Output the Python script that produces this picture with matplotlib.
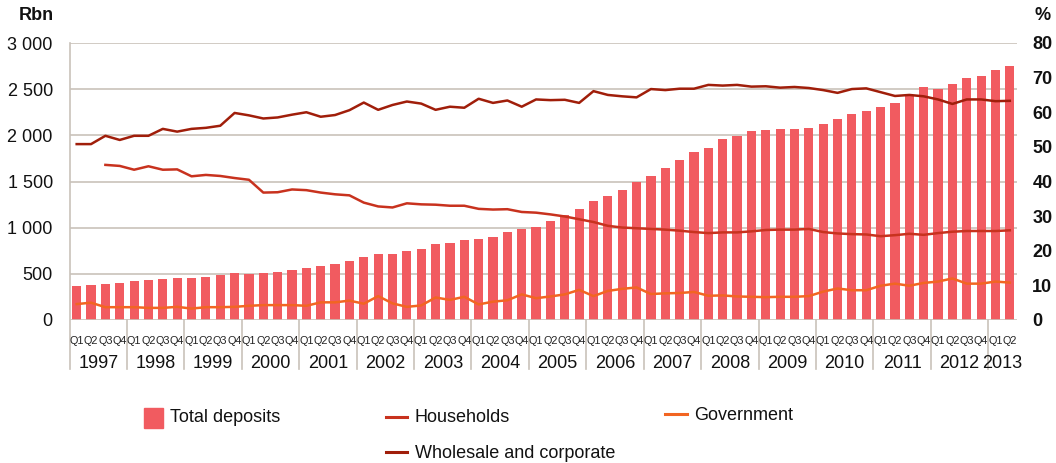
import matplotlib
matplotlib.use("Agg")
import matplotlib.pyplot as plt
from matplotlib.patches import Rectangle
from matplotlib.lines import Line2D
from matplotlib.transforms import blended_transform_factory
import numpy as np

plt.rcParams['font.family'] = ['Liberation Sans', 'DejaVu Sans']

years = ['1997', '1998', '1999', '2000', '2001', '2002', '2003', '2004',
         '2005', '2006', '2007', '2008', '2009', '2010', '2011', '2012', '2013']
quarters_per_year = [4] * 16 + [2]
quarter_labels = ['Q1', 'Q2', 'Q3', 'Q4']

total_deposits = [
    372, 383, 394, 405,
    426, 437, 448, 459,
    459, 470, 491, 513,
    502, 513, 524, 546,
    567, 589, 611, 643,
    683, 715, 715, 751,
    773, 827, 835, 871,
    881, 903, 957, 986,
    1008, 1077, 1138, 1207,
    1290, 1344, 1409, 1496,
    1564, 1647, 1734, 1821,
    1868, 1965, 1998, 2048,
    2059, 2070, 2070, 2081,
    2124, 2178, 2233, 2265,
    2308, 2352, 2428, 2525,
    2504, 2558, 2623, 2645,
    2710, 2753,
]

households = [
    np.nan, np.nan, 44.8, 44.5,
    43.4, 44.4, 43.4, 43.5,
    41.5, 41.9, 41.6, 41.0,
    40.5, 36.8, 36.9, 37.7,
    37.5, 36.8, 36.3, 36.0,
    33.9, 32.8, 32.5, 33.7,
    33.4, 33.3, 33.0, 33.0,
    32.1, 31.9, 32.0, 31.2,
    31.0, 30.5, 29.9, 29.1,
    28.3, 27.2, 26.7, 26.5,
    26.3, 26.1, 25.8, 25.4,
    25.1, 25.3, 25.3, 25.6,
    26.0, 26.1, 26.1, 26.3,
    25.4, 25.0, 24.8, 24.7,
    24.2, 24.5, 24.9, 24.6,
    25.1, 25.5, 25.7, 25.7,
    25.7, 25.9,
]

wholesale = [
    50.8, 50.8, 53.2, 52.0,
    53.2, 53.2, 55.2, 54.4,
    55.2, 55.5, 56.1, 59.8,
    59.1, 58.2, 58.5, 59.3,
    60.0, 58.7, 59.2, 60.6,
    62.8, 60.7, 62.1, 63.1,
    62.5, 60.7, 61.6, 61.3,
    63.9, 62.7, 63.4, 61.6,
    63.7, 63.5, 63.6, 62.7,
    66.1, 65.0, 64.6, 64.3,
    66.7, 66.4, 66.8, 66.8,
    67.9, 67.7, 67.9, 67.4,
    67.5, 67.1, 67.3, 67.0,
    66.4, 65.6, 66.7, 66.9,
    65.8, 64.7, 65.0, 64.6,
    63.7, 62.4, 63.7, 63.7,
    63.2, 63.3,
]

government = [
    4.6, 5.0, 3.7, 3.7,
    3.7, 3.5, 3.5, 3.8,
    3.3, 3.7, 3.7, 3.8,
    4.1, 4.3, 4.3, 4.3,
    4.1, 5.1, 5.1, 5.6,
    4.7, 6.9, 4.8, 3.8,
    4.2, 6.5, 5.8, 6.7,
    4.5, 5.3, 5.7, 7.4,
    6.3, 6.8, 7.4, 8.7,
    6.9, 8.4, 9.0, 9.4,
    7.5, 7.7, 7.8, 8.1,
    7.0, 7.1, 6.8, 6.7,
    6.6, 6.7, 6.7, 6.9,
    8.2, 9.1, 8.6, 8.6,
    9.9, 10.5, 9.9, 10.7,
    11.1, 12.0, 10.5, 10.5,
    11.1, 10.8,
]

left_ticks = [0, 500, 1000, 1500, 2000, 2500, 3000]
left_tick_labels = ['0', '500', '1 000', '1 500', '2 000', '2 500', '3 000']
right_ticks = [0, 10, 20, 30, 40, 50, 60, 70, 80]

C_BAR = '#F15B60'
C_HH = '#C8321E'
C_WH = '#A01E0A'
C_GOV = '#F26522'
C_GRID = '#C9C2BA'
C_TXT = '#111111'

W, H = 1056, 463
fig = plt.figure(figsize=(W / 100, H / 100), dpi=100)
x0, x1 = 69.5, 1017
y0, y1 = 320, 43
ax = fig.add_axes([x0 / W, 1 - y0 / H, (x1 - x0) / W, (y0 - y1) / H])
ax2 = ax.twinx()

n = len(total_deposits)
x = np.arange(n)
ax.bar(x, total_deposits, width=0.64, color=C_BAR, zorder=2)
ax.set_xlim(-0.5, n - 0.5)
ax.set_ylim(0, 3000)
ax.set_yticks(left_ticks)
ax.set_yticklabels(left_tick_labels)
for yv in left_ticks[1:]:
    ax.axhline(yv, color=C_GRID, lw=1.2, zorder=1)
ax.axhline(0, color=C_GRID, lw=1.2, zorder=3)

ax2.plot(x, households, color=C_HH, lw=1.8, zorder=4)
ax2.plot(x, wholesale, color=C_WH, lw=1.8, zorder=4)
ax2.plot(x, government, color=C_GOV, lw=1.8, zorder=4)
ax2.set_ylim(0, 80)
ax2.set_yticks(right_ticks)
ax2.set_yticklabels([str(t) for t in right_ticks], fontweight='bold')

for a in (ax, ax2):
    for s in a.spines.values():
        s.set_visible(False)
    a.tick_params(length=0)
    a.set_xticks([])
ax.tick_params(axis='y', labelsize=13, pad=12, colors=C_TXT)
ax2.tick_params(axis='y', labelsize=13, pad=11, colors=C_TXT)

# quarter and year labels
tr = blended_transform_factory(ax.transData, fig.transFigure)
pos = 0
bounds = [-0.5]
for yr, nq in zip(years, quarters_per_year):
    for q in range(nq):
        ax.text(pos + q, 1 - 341 / H, quarter_labels[q], transform=tr,
                ha='center', va='center', fontsize=7.8, color='#222222')
    ax.text(pos + (nq - 1) / 2, 1 - 363 / H, yr, transform=tr,
            ha='center', va='center', fontsize=13, color=C_TXT)
    pos += nq
    bounds.append(pos - 0.5)
ax.add_line(Line2D([-0.5, -0.5], [1 - 43 / H, 1 - 369 / H], transform=tr,
                   color=C_GRID, lw=1.2, clip_on=False))
for b in bounds[1:-1]:
    ax.add_line(Line2D([b, b], [1 - 320 / H, 1 - 369 / H], transform=tr,
                       color=C_GRID, lw=1.2, clip_on=False))

fig.text(36 / W, 1 - 16 / H, 'Rbn', ha='center', va='center',
         fontsize=13, fontweight='bold', color=C_TXT)
fig.text(1043 / W, 1 - 16 / H, '%', ha='center', va='center',
         fontsize=13, fontweight='bold', color=C_TXT)

# legend
fig.add_artist(Rectangle((144 / W, 1 - 428 / H), 19 / W, 20 / H,
                         transform=fig.transFigure, color=C_BAR))
fig.text(170 / W, 1 - 418 / H, 'Total deposits', ha='left', va='center',
         fontsize=13, color=C_TXT)
fig.add_artist(Line2D([386 / W, 407 / W], [1 - 417 / H] * 2,
                      transform=fig.transFigure, color=C_HH, lw=2.2))
fig.text(415 / W, 1 - 418 / H, 'Households', ha='left', va='center',
         fontsize=13, color=C_TXT)
fig.add_artist(Line2D([386 / W, 407 / W], [1 - 452 / H] * 2,
                      transform=fig.transFigure, color=C_WH, lw=2.2))
fig.text(415 / W, 1 - 453 / H, 'Wholesale and corporate', ha='left',
         va='center', fontsize=13, color=C_TXT)
fig.add_artist(Line2D([665 / W, 687 / W], [1 - 414 / H] * 2,
                      transform=fig.transFigure, color=C_GOV, lw=2.2))
fig.text(694 / W, 1 - 415 / H, 'Government', ha='left', va='center',
         fontsize=13, color=C_TXT)

fig.savefig('out.png', dpi=100)
